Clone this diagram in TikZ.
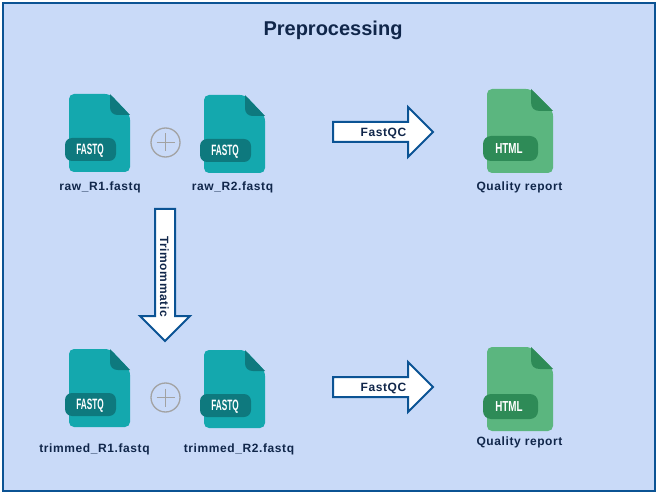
\documentclass[tikz,border=0pt]{standalone}
\usepackage{fontspec}
\usepackage{graphicx}
\usetikzlibrary{calc}
\setmainfont{Liberation Sans}
\newfontfamily\lblfont[LetterSpace=5,Ligatures=NoCommon]{Liberation Sans Bold}
\definecolor{bgblue}{HTML}{C9DAF8}
\definecolor{edgeblue}{HTML}{0B5394}
\definecolor{inkblue}{HTML}{10264A}
\definecolor{tealmain}{HTML}{14A8AE}
\definecolor{tealdark}{HTML}{0E797E}
\definecolor{greenmain}{HTML}{5BB67F}
\definecolor{greendark}{HTML}{2E8B57}
\definecolor{plusgray}{HTML}{A2A2A2}
\tikzset{
  x=1pt,y=-1pt,
  namelabel/.style={font=\lblfont\fontsize{12}{14}\selectfont,text=inkblue,inner sep=0pt},
  arrowlabel/.style={font=\lblfont\fontsize{12}{14}\selectfont,text=inkblue,inner sep=0pt},
  bigarrow/.style={draw=edgeblue,fill=white,line width=2pt,miter limit=10},
  plusring/.style={draw=plusgray,line width=1.3pt,circle,minimum size=29pt,inner sep=0pt},
  plusbar/.style={draw=plusgray,line width=1.3pt},
  pics/fastqfile/.style={code={
    \fill[tealmain,rounded corners=5pt] (0,0) -- (41,0) -- (61,21) -- (61,78) -- (0,78) -- cycle;
    \fill[tealdark] (41,0) -- (61,21) -- (49,21) .. controls (44,21) and (41,18) .. (41,13) -- cycle;
    \fill[tealdark,rounded corners=7pt] (-4,44) rectangle (47,67);
    \node[text=white,inner sep=0pt,font=\bfseries\fontsize{15}{15}\selectfont] at (21,56.5) {\scalebox{0.55}[1]{FASTQ}};
  }},
  pics/htmlfile/.style={code={
    \fill[greenmain,rounded corners=5pt] (0,0) -- (44,0) -- (66,22) -- (66,84) -- (0,84) -- cycle;
    \fill[greendark] (44,0) -- (66,22) -- (53,22) .. controls (47,22) and (44,19) .. (44,13) -- cycle;
    \fill[greendark,rounded corners=8pt] (-4,47) rectangle (51,72);
    \node[text=white,inner sep=0pt,font=\bfseries\fontsize{14.5}{15}\selectfont] at (22,60) {\scalebox{0.68}[1]{HTML}};
  }}
}
\begin{document}
\begin{tikzpicture}
\useasboundingbox (0,0) rectangle (658,494);
\draw[draw=edgeblue,fill=bgblue,line width=2pt] (3,3) rectangle (655,491);
\node[font=\bfseries\fontsize{20}{22}\selectfont,text=inkblue,inner sep=0pt] (title) at (333,30) {Preprocessing};

% first row
\pic at (69,94) {fastqfile};
\pic at (204,95) {fastqfile};
\node[plusring] (plusA) at (165.5,142.5) {};
\draw[plusbar] ($(plusA)+(-9,0)$) -- ($(plusA)+(9,0)$);
\draw[plusbar] ($(plusA)+(0,-9)$) -- ($(plusA)+(0,9)$);
\node[namelabel] (rawA) at (100,187.5) {raw\_R1.fastq};
\node[namelabel] (rawB) at (232.5,187.5) {raw\_R2.fastq};
\draw[bigarrow] (333,122) -- (408,122) -- (408,107) -- (433,132) -- (408,157) -- (408,142) -- (333,142) -- cycle;
\node[arrowlabel] (qcA) at (383.5,133) {FastQC};
\pic at (487,89) {htmlfile};
\node[namelabel] (repA) at (519.5,187.5) {Quality report};

% trim arrow
\draw[bigarrow] (155,209) -- (175,209) -- (175,316) -- (190,316) -- (165,341) -- (140,316) -- (155,316) -- cycle;
\node[arrowlabel,rotate=-90] (trim) at (164.5,276.5) {Trimommatic};

% second row
\pic at (69,349) {fastqfile};
\pic at (204,350) {fastqfile};
\node[plusring] (plusB) at (165.5,397.5) {};
\draw[plusbar] ($(plusB)+(-9,0)$) -- ($(plusB)+(9,0)$);
\draw[plusbar] ($(plusB)+(0,-9)$) -- ($(plusB)+(0,9)$);
\node[namelabel] (trimA) at (94.5,449.5) {trimmed\_R1.fastq};
\node[namelabel] (trimB) at (239,449.5) {trimmed\_R2.fastq};
\draw[bigarrow] (333,377) -- (408,377) -- (408,362) -- (433,387) -- (408,412) -- (408,397) -- (333,397) -- cycle;
\node[arrowlabel] (qcB) at (383.5,388) {FastQC};
\pic at (487,347) {htmlfile};
\node[namelabel] (repB) at (519.5,442.5) {Quality report};
\end{tikzpicture}
\end{document}
